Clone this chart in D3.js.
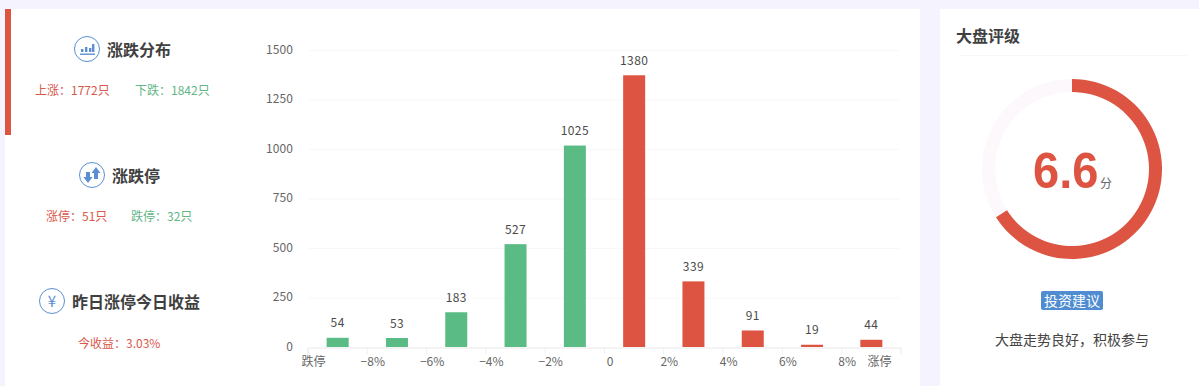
<!DOCTYPE html>
<html><head><meta charset="utf-8">
<script src="https://cdn.jsdelivr.net/npm/d3@7"></script>
<style>
html,body{margin:0;padding:0;background:#f5f3fe;overflow:hidden}
text{font-family:"Noto Sans CJK SC","Liberation Sans",sans-serif}
</style></head><body><svg id="c" width="1199" height="386"></svg>
<script>
const categories=["跌停","−8%","−6%","−4%","−2%","0~2","2~4","4~6","6~8","涨停"];
const values=[54,53,183,527,1025,1380,339,91,19,44];
const barSides=["down","down","down","down","down","up","up","up","up","up"];
const xTickLabels=["跌停","−8%","−6%","−4%","−2%","0","2%","4%","6%","8%","涨停"];
const yTicks=[0,250,500,750,1000,1250,1500];
const score=6.6, scoreMax=10;
const panels=[
 {title:"涨跌分布",icon:"bars",stats:[["上涨\uFF1A1772只","up"],["下跌\uFF1A1842只","down"]]},
 {title:"涨跌停",icon:"arrows",stats:[["涨停\uFF1A51只","up"],["跌停\uFF1A32只","down"]]},
 {title:"昨日涨停今日收益",icon:"yen",stats:[["今收益\uFF1A3.03%","up"]]}
];
const RED="#dd5442",GREEN="#5bbb85",BLUE="#5b8fd2",DARK="#3f3f3f";
const svg=d3.select("#c");
svg.append("rect").attr("x",5).attr("y",9).attr("width",915).attr("height",377).attr("fill","#fff");
svg.append("rect").attr("x",940).attr("y",9).attr("width",259).attr("height",377).attr("fill","#fff");
svg.append("rect").attr("x",5).attr("y",9).attr("width",6).attr("height",126).attr("fill",RED);

// chart
const x=d3.scaleBand().domain(d3.range(values.length)).range([308,901]).paddingInner(0);
const tickX=d3.scaleLinear().domain([0,10]).range([307.5,900.5]);
const y=d3.scaleLinear().domain([0,1500]).range([347.5,50.5]);
const yg=svg.append("g").attr("transform","translate(300,0)").call(d3.axisLeft(y).tickValues(yTicks).tickFormat(d3.format("d")).tickSize(0).tickPadding(7));
yg.select(".domain").remove();
yg.selectAll("text").attr("font-size",12).attr("fill","#666").attr("dy",".24em").attr("letter-spacing",".1px").style("font-family",'"Noto Sans CJK SC"');
svg.append("g").selectAll("line").data(yTicks.slice(1)).join("line")
 .attr("x1",308).attr("x2",900).attr("y1",d=>y(d)).attr("y2",d=>y(d)).attr("stroke","#f8f8f8");
const xg=svg.append("g").attr("transform","translate(0,347.5)")
 .call(d3.axisBottom(tickX).tickValues(d3.range(11)).tickFormat(i=>xTickLabels[i]).tickSize(7).tickPadding(3));
xg.select(".domain").attr("stroke","#e8e8e8");
xg.selectAll("line").attr("stroke","#f0f0f0");
xg.selectAll("text").attr("font-size",12).attr("fill","#666")
 .attr("dx",(d,i)=>i===10?-21.5:5.5);
xg.selectAll(".tick").filter((d,i)=>i===10).select("line").remove();
svg.append("g").selectAll("rect").data(values).join("rect")
 .attr("x",(d,i)=>x(i)+x.bandwidth()/2-11).attr("width",22)
 .attr("y",d=>y(d)+1).attr("height",d=>Math.max(0,y(0)-y(d)-1.5))
 .attr("fill",(d,i)=>barSides[i]==="up"?RED:GREEN);
svg.append("g").selectAll("text").data(values).join("text")
 .attr("x",(d,i)=>x(i)+x.bandwidth()/2).attr("y",d=>y(d)-9.5)
 .attr("text-anchor","middle").attr("font-size",12).attr("letter-spacing",".4px").attr("fill","#4a4a4a").text(d=>d);

// left headers
const layout=[{ix:87,iy:49,tx:107,ty:49,sy:89.5,sx:[35,135]},{ix:92,iy:175,tx:112,ty:175,sy:215.5,sx:[46,131]},{ix:52,iy:301,tx:72,ty:301,sy:342,sx:[78]}];
panels.forEach((p,k)=>{
 const l=layout[k],g=svg.append("g");
 g.append("circle").attr("cx",l.ix).attr("cy",l.iy).attr("r",12.5).attr("fill","#fff").attr("stroke",BLUE).attr("stroke-width",1);
 if(p.icon==="bars"){
  [[-6,3],[-2,5],[2,4],[5,8]].forEach(([dx,h])=>g.append("rect").attr("x",l.ix+dx).attr("y",l.iy+3-h).attr("width",2.4).attr("height",h).attr("fill",BLUE));
  g.append("rect").attr("x",l.ix-7).attr("y",l.iy+4.5).attr("width",15).attr("height",1.4).attr("fill",BLUE);
 } else if(p.icon==="arrows"){
  g.append("path").attr("fill",BLUE).attr("d",`M${l.ix-6} ${l.iy-3}h4v5h2.5l-4.5 6l-4.5-6h2.5z`);
  g.append("path").attr("fill",BLUE).attr("d",`M${l.ix+2} ${l.iy+4}h4v-6h2.5l-4.5-6l-4.5 6h2.5z`);
 } else {
  g.append("text").attr("x",l.ix).attr("y",l.iy+5.5).attr("text-anchor","middle").attr("font-size",15).attr("fill",BLUE).text("¥");
 }
 g.append("text").attr("x",l.tx).attr("y",l.ty).attr("dominant-baseline","central").attr("font-size",16).attr("font-weight",700).attr("fill",DARK).text(p.title);
 p.stats.forEach((s,j)=>g.append("text").attr("x",l.sx[j]).attr("y",l.sy).attr("dominant-baseline","central").attr("font-size",12).attr("fill",s[1]==="up"?"#d9584a":"#62b585").text(s[0]));
});

// rating panel
svg.append("text").attr("x",956).attr("y",35).attr("dominant-baseline","central").attr("font-size",16).attr("font-weight",700).attr("fill",DARK).text("大盘评级");
svg.append("line").attr("x1",960).attr("x2",1187).attr("y1",55.5).attr("y2",55.5).attr("stroke","#f8f8f8");
const cx=1072,cy=169;
const angle=d3.scaleLinear().domain([0,scoreMax]).range([0,2*Math.PI]);
const arc=d3.arc().innerRadius(77).outerRadius(90);
const gauge=svg.append("g").attr("transform",`translate(${cx},${cy})`);
gauge.append("path").attr("fill","#fcf8fc").attr("d",arc({startAngle:0,endAngle:2*Math.PI}));
gauge.append("path").attr("fill",RED).attr("d",arc({startAngle:0,endAngle:angle(score)}));
svg.append("text").attr("transform","translate(1033,188) scale(1,1.08)").attr("font-size",47).attr("font-weight",700).attr("fill",RED)
 .style("font-family",'"Liberation Sans"').text(score.toFixed(1));
svg.append("text").attr("x",1100).attr("y",182).attr("dominant-baseline","central").attr("font-size",12).attr("fill","#666").text("分");
svg.append("rect").attr("x",1041).attr("y",291).attr("width",62).attr("height",19).attr("rx",2).attr("fill","#4f8cd2");
svg.append("text").attr("x",1072).attr("y",300).attr("dominant-baseline","central").attr("text-anchor","middle").attr("font-size",14).attr("fill","#fff").text("投资建议");
svg.append("text").attr("x",1072).attr("y",338.5).attr("dominant-baseline","central").attr("text-anchor","middle").attr("font-size",14).attr("fill","#444").text("大盘走势良好\uFF0C积极参与");
</script></body></html>
